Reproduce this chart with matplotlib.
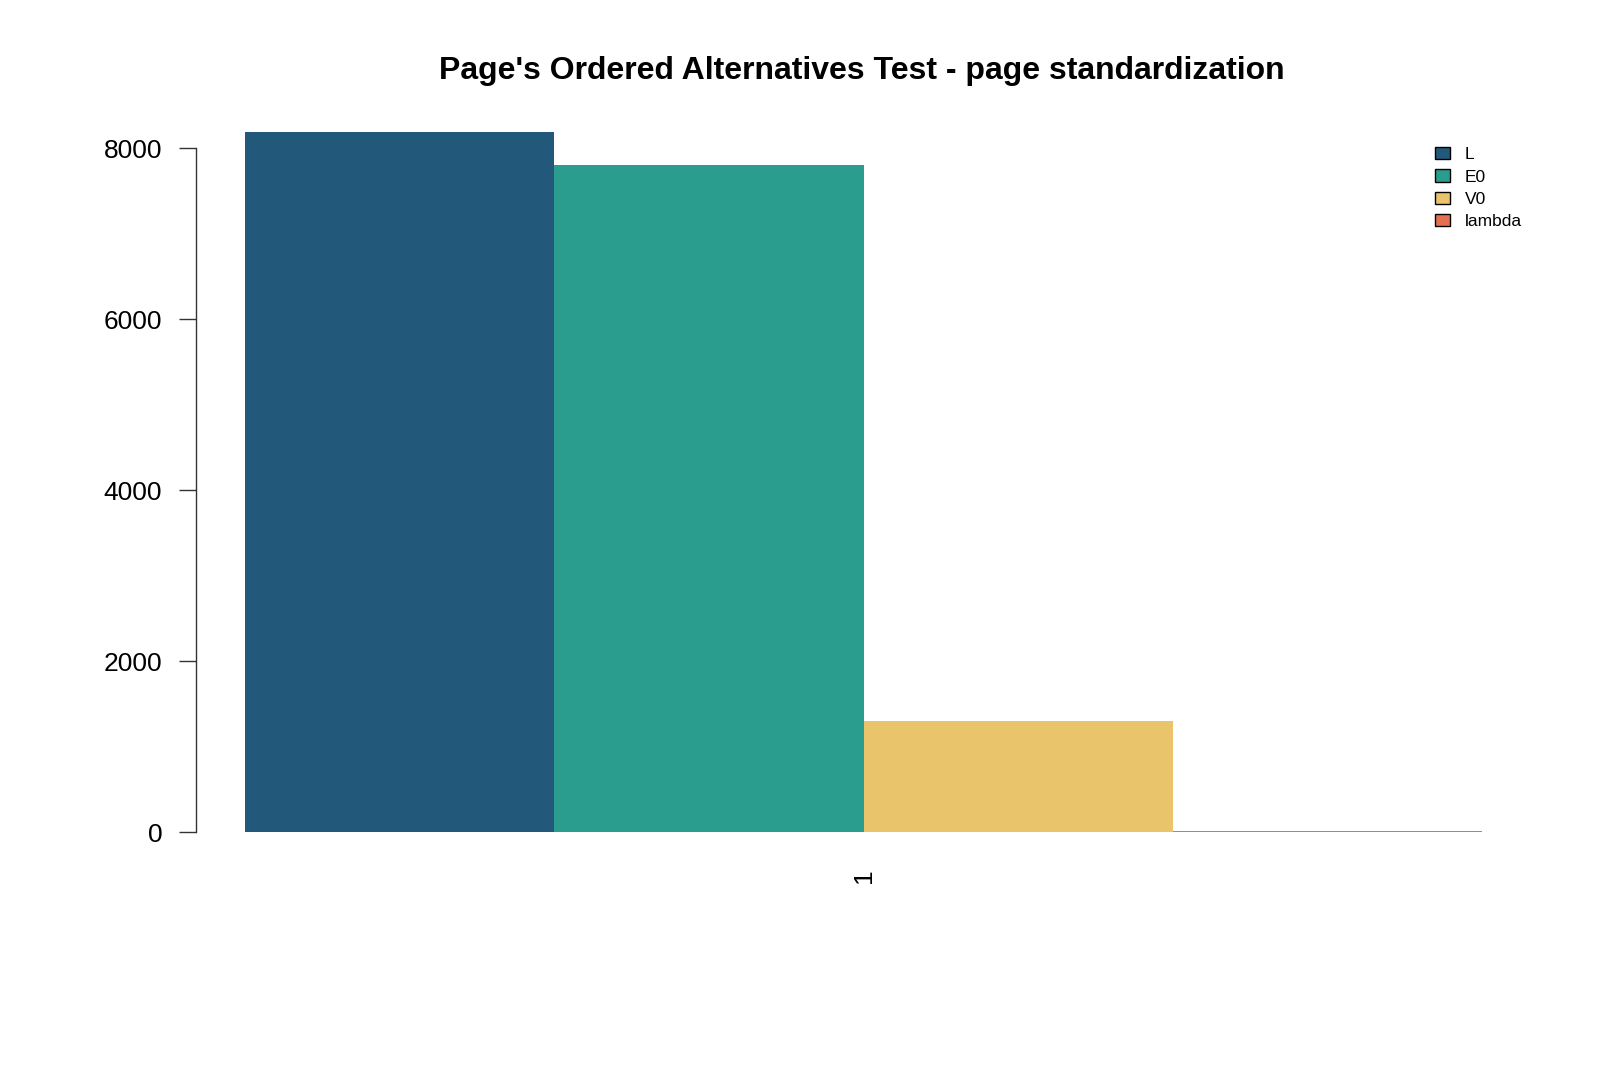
import numpy as np
import matplotlib.pyplot as plt
from matplotlib.patches import Patch

plt.rcParams['font.family'] = ['Liberation Sans', 'DejaVu Sans']

# datos
series = ['L', 'E0', 'V0', 'lambda']
values = [8190, 7800, 1300, 15]
colors = ['#22597a', '#2a9d8f', '#e9c46a', '#e76f51']
group_label = '1'
title = "Page's Ordered Alternatives Test - page standardization"

W, H = 1600, 1067
fig = plt.figure(figsize=(W / 100, H / 100), dpi=100)

# limites del area de dibujo (en pixeles)
left, right, top, bottom = 195.5, 1532, 104, 860
ax = fig.add_axes([left / W, 1 - bottom / H, (right - left) / W, (bottom - top) / H])

# barras lado a lado, como barplot(beside=TRUE) de R
x = np.arange(len(values)) + 1.5
ax.bar(x, values, width=1.0, color=colors, linewidth=0)

ax.set_xlim(1 - 0.16, 5 + 0.16)
ymax = max(values)
ax.set_ylim(-0.04 * ymax, 1.04 * ymax)

for s in ['top', 'right', 'bottom']:
    ax.spines[s].set_visible(False)
ax.spines['left'].set_bounds(0, 8000)
ax.spines['left'].set_color('#333333')
ax.spines['left'].set_linewidth(1.0)

ax.set_yticks([0, 2000, 4000, 6000, 8000])
ax.tick_params(axis='y', length=12, width=1.0, color='#333333', labelsize=19, pad=12)
ax.set_xticks([3])
ax.set_xticklabels([group_label], rotation=90, fontsize=19)
ax.tick_params(axis='x', length=0, pad=6)

fig.text(862 / W, 1 - 71 / H, title, ha='center', va='center', fontsize=23, fontweight='bold')

handles = [Patch(facecolor=c, edgecolor='black', linewidth=1.0) for c in colors]
leg = ax.legend(handles, series, loc='upper left', frameon=False, fontsize=12.5,
                bbox_to_anchor=(1435 / W, 1 - 147 / H), bbox_transform=fig.transFigure,
                handlelength=0.85, handleheight=0.7, handletextpad=0.88,
                labelspacing=0.42, borderaxespad=0, borderpad=0)

fig.savefig('out.png', dpi=100, facecolor='white')
